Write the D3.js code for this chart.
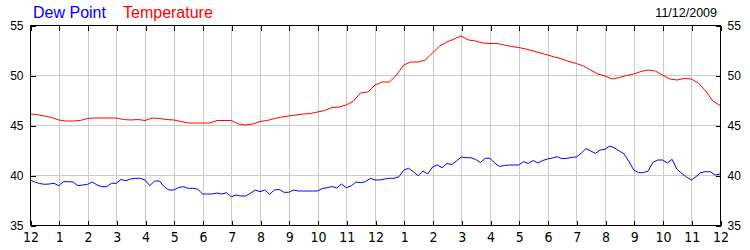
<!DOCTYPE html>
<html>
<head>
<meta charset="utf-8">
<script src="https://cdn.jsdelivr.net/npm/d3@7"></script>
<style>
  body { margin: 0; background: #fff; }
  svg { display: block; font-family: "Liberation Sans", Arial, sans-serif; }
  .grid line { stroke: #cccccc; shape-rendering: crispEdges; }
  .axis line { stroke: #000; shape-rendering: crispEdges; }
  .axis path { display: none; }
  .axis text { fill: #000; font-size: 12px; }
  .xlabels text { font-size: 14px; font-family: "Liberation Sans Narrow", "DejaVu Sans Condensed", "Liberation Sans", sans-serif; }
</style>
</head>
<body>
<svg id="chart" width="750" height="250"></svg>
<script>
// data (11/12/2009)
var chartDate = "11/12/2009";
var hourTicks = [0, 1, 2, 3, 4, 5, 6, 7, 8, 9, 10, 11, 12, 13, 14, 15, 16, 17, 18, 19, 20, 21, 22, 23, 24];
var hourLabels = ["12", "1", "2", "3", "4", "5", "6", "7", "8", "9", "10", "11",
                  "12", "1", "2", "3", "4", "5", "6", "7", "8", "9", "10", "11", "12"];
var yTicks = [35, 40, 45, 50, 55];

// temperature, one reading every 15 minutes
var tempStep = 0.25;
var temperature = [
  46.1, 46.05, 45.9, 45.75, 45.5, 45.4, 45.4, 45.45,
  45.65, 45.7, 45.7, 45.7, 45.7, 45.55, 45.5, 45.55,
  45.45, 45.7, 45.65, 45.55, 45.5, 45.35, 45.2, 45.2,
  45.2, 45.2, 45.45, 45.45, 45.45, 45.1, 45.0, 45.1,
  45.35, 45.45, 45.65, 45.8, 45.9, 46.0, 46.1, 46.15,
  46.3, 46.45, 46.75, 46.8, 47.0, 47.4, 48.2, 48.3,
  49.0, 49.3, 49.3, 50.0, 51.0, 51.3, 51.3, 51.5,
  52.2, 52.9, 53.3, 53.6, 53.9, 53.5, 53.4, 53.2,
  53.15, 53.15, 53.0, 52.85, 52.75, 52.6, 52.4, 52.2,
  52.0, 51.8, 51.6, 51.35, 51.15, 50.9, 50.5, 50.1,
  49.9, 49.6, 49.75, 49.95, 50.1, 50.35, 50.5, 50.4,
  50.0, 49.6, 49.5, 49.65, 49.6, 49.2, 48.4, 47.4,
  46.95
];

// dew point, one reading every 10 minutes
var dewStep = 1 / 6;
var dewPoint = [
  39.5, 39.3, 39.15, 39.07, 39.1, 39.17,
  38.93, 39.33, 39.33, 39.3, 38.93, 39.0,
  39.07, 39.3, 39.0, 38.83, 38.83, 39.17,
  39.17, 39.55, 39.43, 39.6, 39.67, 39.67,
  39.5, 38.93, 39.4, 39.4, 38.83, 38.5,
  38.5, 38.75, 38.83, 38.67, 38.67, 38.6,
  38.1, 38.1, 38.1, 38.2, 38.1, 38.23,
  37.83, 38.0, 37.9, 37.9, 38.17, 38.5,
  38.33, 38.5, 38.07, 38.5, 38.57, 38.27,
  38.27, 38.5, 38.4, 38.4, 38.4, 38.4,
  38.4, 38.65, 38.73, 38.85, 38.7, 39.1,
  38.73, 38.9, 39.3, 39.23, 39.33, 39.67,
  39.5, 39.5, 39.6, 39.67, 39.67, 39.83,
  40.5, 40.67, 40.33, 39.93, 40.4, 40.1,
  40.8, 41.0, 40.73, 41.15, 41.05, 41.4,
  41.8, 41.73, 41.73, 41.55, 41.25, 41.67,
  41.67, 41.2, 40.85, 40.95, 41.0, 41.0,
  41.0, 41.33, 41.15, 41.45, 41.2, 41.45,
  41.6, 41.7, 41.83, 41.65, 41.65, 41.77,
  41.8, 42.15, 42.65, 42.4, 42.17, 42.5,
  42.57, 42.9, 42.7, 42.4, 42.1, 41.33,
  40.5, 40.23, 40.23, 40.4, 41.27, 41.5,
  41.5, 41.2, 41.57, 40.57, 40.17, 39.8,
  39.5, 39.83, 40.25, 40.33, 40.33, 40.0,
  40.1
];

// layout
var plot = { left: 30, right: 720, top: 25, bottom: 225 };
var svg = d3.select("#chart");

var x = d3.scaleLinear()
    .domain([0, 24])
    .range([plot.left, plot.right]);

var y = d3.scaleLinear()
    .domain([35, 55])
    .range([plot.bottom, plot.top]);

// grid
var grid = svg.append("g").attr("class", "grid").attr("transform", "translate(0.5,0.5)");
grid.selectAll("line.v")
    .data(hourTicks.slice(1, -1))
    .enter()
    .append("line")
    .attr("x1", function (d) { return Math.round(x(d)); })
    .attr("x2", function (d) { return Math.round(x(d)); })
    .attr("y1", plot.top)
    .attr("y2", plot.bottom);
grid.selectAll("line.h")
    .data(yTicks.slice(1, -1))
    .enter()
    .append("line")
    .attr("x1", plot.left)
    .attr("x2", plot.right)
    .attr("y1", function (d) { return Math.round(y(d)); })
    .attr("y2", function (d) { return Math.round(y(d)); });

// series
var tempLine = d3.line()
    .x(function (d, i) { return x(i * tempStep); })
    .y(function (d) { return y(d); });

var dewLine = d3.line()
    .x(function (d, i) { return x(i * dewStep); })
    .y(function (d) { return y(d); });

svg.append("path")
    .datum(dewPoint)
    .attr("d", dewLine)
    .attr("fill", "none")
    .attr("stroke", "#0000ff")
    .attr("stroke-width", 1);

svg.append("path")
    .datum(temperature)
    .attr("d", tempLine)
    .attr("fill", "none")
    .attr("stroke", "#ff0000")
    .attr("stroke-width", 1);

// frame
svg.append("rect")
    .attr("x", plot.left + 0.5)
    .attr("y", plot.top + 0.5)
    .attr("width", plot.right - plot.left)
    .attr("height", plot.bottom - plot.top)
    .attr("fill", "none")
    .attr("stroke", "#000")
    .attr("shape-rendering", "crispEdges");

// axes, ticks point inwards
var xAxisBottom = d3.axisBottom(x)
    .tickValues(hourTicks)
    .tickSize(-5)
    .tickPadding(7)
    .tickFormat(function (d) { return hourLabels[d]; });

var xAxisTop = d3.axisTop(x)
    .tickValues(hourTicks)
    .tickSize(-5)
    .tickFormat("");

var yAxisLeft = d3.axisLeft(y)
    .tickValues(yTicks)
    .tickSize(-5)
    .tickPadding(7);

var yAxisRight = d3.axisRight(y)
    .tickValues(yTicks)
    .tickSize(-5)
    .tickPadding(7);

svg.append("g")
    .attr("class", "axis xlabels")
    .attr("transform", "translate(0.5," + (plot.bottom + 0.5) + ")")
    .call(xAxisBottom);

svg.append("g")
    .attr("class", "axis")
    .attr("transform", "translate(0.5," + (plot.top + 0.5) + ")")
    .call(xAxisTop);

svg.append("g")
    .attr("class", "axis")
    .attr("transform", "translate(" + (plot.left + 0.5) + ",0.5)")
    .call(yAxisLeft);

svg.append("g")
    .attr("class", "axis")
    .attr("transform", "translate(" + (plot.right + 0.5) + ",0.5)")
    .call(yAxisRight);

// legend and date
svg.append("text")
    .attr("x", 33).attr("y", 18)
    .style("font-size", "16px")
    .attr("fill", "#0000ff")
    .text("Dew Point");
svg.append("text")
    .attr("x", 123).attr("y", 18)
    .style("font-size", "16px")
    .attr("fill", "#ff0000")
    .text("Temperature");
svg.append("text")
    .attr("x", 717).attr("y", 17)
    .attr("text-anchor", "end")
    .style("font-size", "12.5px")
    .attr("fill", "#000")
    .text(chartDate);
</script>
</body>
</html>
